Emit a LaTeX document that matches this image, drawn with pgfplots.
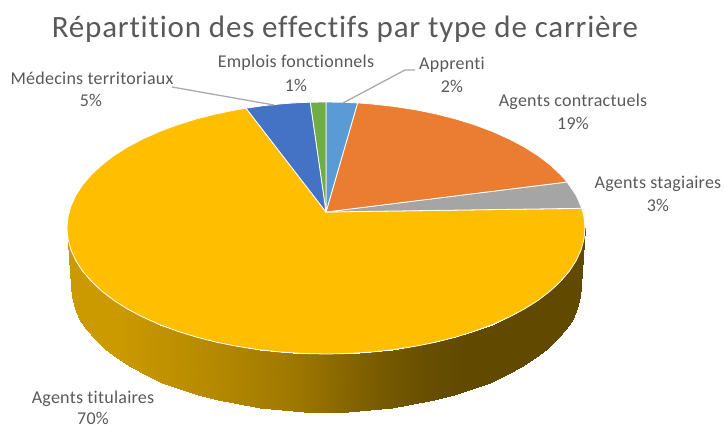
\documentclass[border=0pt]{standalone}
\usepackage{fontspec}
\setmainfont[Ligatures=NoCommon]{Carlito}
\usepackage{pgfplots}
\pgfplotsset{compat=1.18}
\definecolor{cYellow}{RGB}{255,190,0}
\definecolor{cOrange}{RGB}{234,125,49}
\definecolor{cGray}{RGB}{165,165,165}
\definecolor{cBlue}{RGB}{68,114,196}
\definecolor{cGreen}{RGB}{112,173,71}
\definecolor{cSky}{RGB}{91,155,213}
\definecolor{cText}{RGB}{89,89,89}
\definecolor{cLead}{RGB}{170,170,170}
\begin{document}
\begin{tikzpicture}[
  lab/.style={anchor=base,text=cText,inner sep=0pt,font=\fontsize{18}{20}\selectfont\addfontfeature{LetterSpace=1.4}},
  slice/.style={draw=white,line width=0.8pt,line join=round}]
\begin{axis}[
  scale only axis,width=725pt,height=425pt,
  xmin=0,xmax=725,ymin=0,ymax=425,y dir=reverse,
  ticks=none,axis line style={draw=none},
  colormap={side}{rgb255(0pt)=(203,153,0) rgb255(50pt)=(203,153,0) rgb255(130pt)=(185,140,0)
    rgb255(230pt)=(158,119,0) rgb255(300pt)=(125,95,0) rgb255(360pt)=(103,78,0)
    rgb255(400pt)=(97,74,0) rgb255(518pt)=(97,73,0)},
  point meta min=67,point meta max=585]

% cote du camembert
\addplot[surf,shader=interp,mesh/rows=2,point meta=x] table {
x y
67 228
68 239
70.9 249.9
75.8 260.6
82.6 271.1
91.3 281.2
101.7 291
113.8 300.3
127.6 309
142.9 317.1
159.5 324.5
177.4 331.2
196.5 337.1
216.5 342.2
237.4 346.4
259 349.7
281 352.1
303.4 353.5
326 354
348.6 353.5
371 352.1
393 349.7
414.6 346.4
435.5 342.2
455.5 337.1
474.6 331.2
492.5 324.5
509.1 317.1
524.4 309
538.2 300.3
550.3 291
560.7 281.2
569.4 271.1
576.2 260.6
581.1 249.9
584 239
585 228
71 286
72 297
74.7 307.9
79.5 318.6
86.3 329.1
94.8 339.2
105 349
117 358.3
130.6 367
145.7 375.1
162 382.5
179.6 389.2
198.3 395.1
218.1 400.2
238.7 404.4
260 407.7
281.7 410.1
303.7 411.5
326 412
348.3 411.5
370.3 410.1
392 407.7
413.3 404.4
433.9 400.2
453.7 395.1
472.4 389.2
490 382.5
506.3 375.1
521.4 367
535 358.3
547 349
557.2 339.2
565.7 329.1
572.5 318.6
577.3 307.9
580 297
581 286
};

% Agents titulaires 70%
\addplot[slice,fill=cYellow] coordinates {
(326,212) (581.8,208.3) (584,217) (585,228) (584,239) (581.1,249.9) (576.2,260.6)
(569.4,271.1) (560.7,281.2) (550.3,291) (538.2,300.3) (524.4,309) (509.1,317.1)
(492.5,324.5) (474.6,331.2) (455.5,337.1) (435.5,342.2) (414.6,346.4) (393,349.7)
(371,352.1) (348.6,353.5) (326,354) (303.4,353.5) (281,352.1) (259,349.7)
(237.4,346.4) (216.5,342.2) (196.5,337.1) (177.4,331.2) (159.5,324.5) (142.9,317.1)
(127.6,309) (113.8,300.3) (101.7,291) (91.3,281.2) (82.6,271.1) (75.8,260.6)
(70.9,249.9) (68,239) (67,228) (68,217) (70.9,206.1) (75.8,195.4) (82.6,184.9)
(91.3,174.8) (101.7,165) (113.8,155.7) (127.6,147) (142.9,138.9) (159.5,131.5)
(177.4,124.8) (196.5,118.9) (216.5,113.8) (237.4,109.6) (246,108.2)
} -- cycle;
% Agents stagiaires 3%
\addplot[slice,fill=cGray] coordinates {
(326,212) (567.2,182) (576.2,195.4) (581.8,208.3)
} -- cycle;
% Agents contractuels 19%
\addplot[slice,fill=cOrange] coordinates {
(326,212) (357.6,102.9) (371,103.9) (393,106.3) (414.6,109.6) (435.5,113.8)
(455.5,118.9) (474.6,124.8) (492.5,131.5) (509.1,138.9) (524.4,147) (538.2,155.7)
(550.3,165) (560.7,174.8) (567.2,182)
} -- cycle;
% Apprenti 2%
\addplot[slice,fill=cSky] coordinates {
(326,212) (326,102) (344.1,102.3) (357.6,102.9)
} -- cycle;
% Emplois fonctionnels 1%
\addplot[slice,fill=cGreen] coordinates {
(326,212) (310.2,102.2) (326,102)
} -- cycle;
% Medecins territoriaux 5%
\addplot[slice,fill=cBlue] coordinates {
(326,212) (246,108.2) (263.3,105.7) (281,103.9) (294.4,102.9) (310.2,102.2)
} -- cycle;

% traits de rappel
\addplot[cLead,line width=1.3pt] coordinates {(172,87) (274,105)};
\addplot[cLead,line width=1.3pt] coordinates {(343,103) (405,70) (415,70)};

\node[anchor=base,text=cText,inner sep=0pt,font=\fontsize{31}{34}\selectfont\addfontfeature{LetterSpace=2.6}] at (axis cs:345,38) {Répartition des effectifs par type de carrière};
\node[lab] at (axis cs:92,85) {Médecins territoriaux};
\node[lab] at (axis cs:91,107) {5\%};
\node[lab] at (axis cs:296,68) {Emplois fonctionnels};
\node[lab] at (axis cs:296,92) {1\%};
\node[lab] at (axis cs:452,70) {Apprenti};
\node[lab] at (axis cs:452,93) {2\%};
\node[lab] at (axis cs:573,107) {Agents contractuels};
\node[lab] at (axis cs:573,130) {19\%};
\node[lab] at (axis cs:658,188) {Agents stagiaires};
\node[lab] at (axis cs:658,211) {3\%};
\node[lab] at (axis cs:93,403) {Agents titulaires};
\node[lab] at (axis cs:93,424) {70\%};
\end{axis}
\end{tikzpicture}
\end{document}
